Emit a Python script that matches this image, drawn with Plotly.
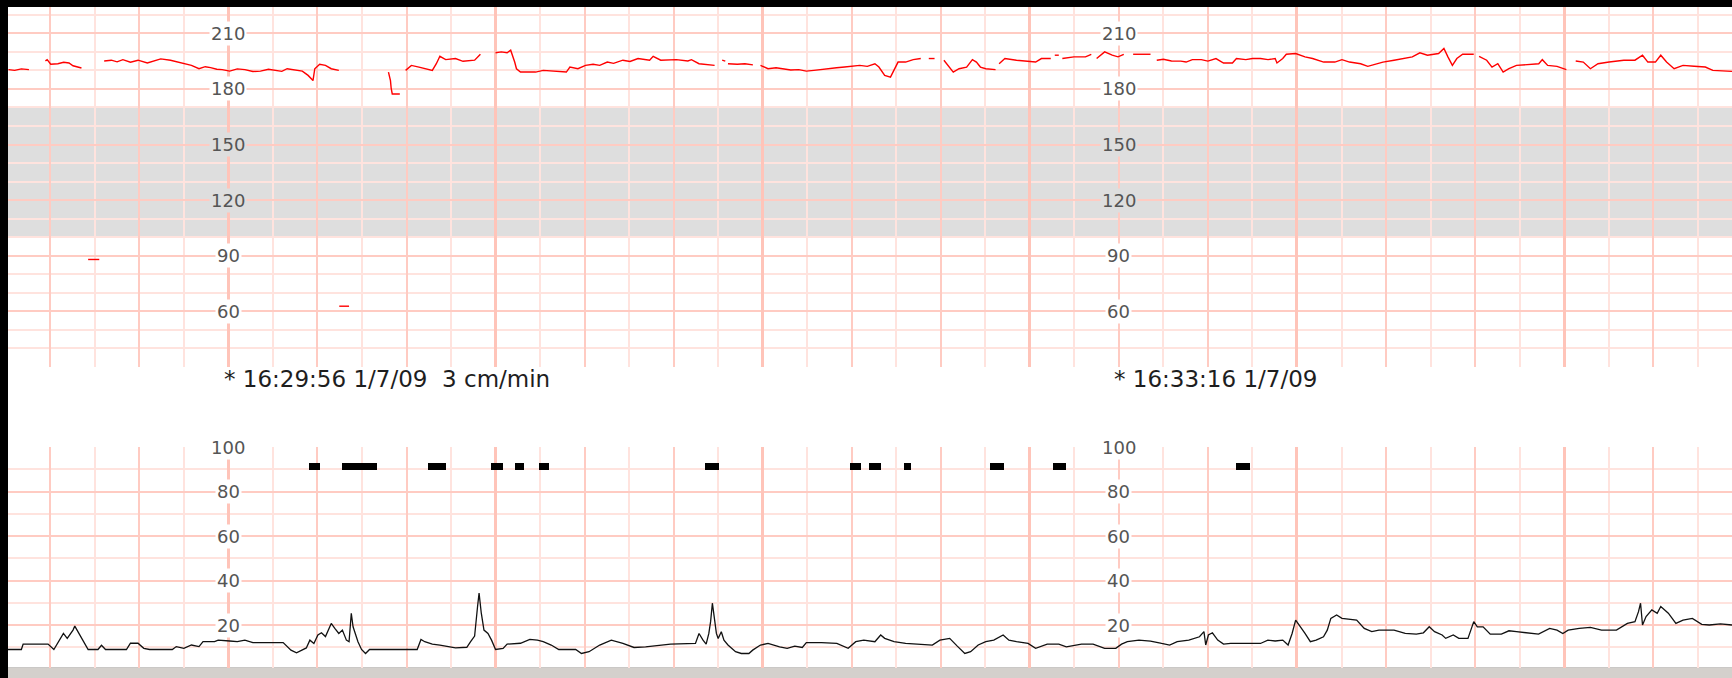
import plotly.graph_objects as go

# ---------------- data (time in seconds relative to 16:29:56) ----------------
# Fetal heart rate (bpm); None marks signal gaps
fhr_t = [
    -49.4, -48.0, -46.5, -44.8, None,
    -41.1, -40.7, -39.9, -38.3, -37.0, -35.8, -34.9, -34.0, -33.0, None,
    -31.5, -29.0, None,
    -27.9, -26.3, -25.0, -23.7, -22.0, -20.3, -18.2, -16.0, -15.2, -13.0, -10.9, -8.3, -6.6, -5.2, -4.0,
    -2.6, -1.4, 0.3, 2.0, 3.7, 5.5, 7.2, 9.0, 10.6, 12.0, 13.2, 14.9, 16.6, 17.9, 19.0, 19.4, 20.5, 21.8,
    23.1, 24.8, None,
    24.9, 27.1, None,
    35.95, 36.4, 36.55, 36.8, 38.5, None,
    39.8, 41.1, 42.8, 44.5, 45.8, 46.7, 47.5, 48.8, 51.0, 52.7, 55.3, 56.6, None,
    60.0, 61.3, 62.6, 63.4, 64.3, 64.7, 65.6, 69.0, 70.7, 75.9, 76.7, 78.5, 80.2, 81.9, 83.4, 85.1, 86.5,
    88.6, 90.2, 92.0, 94.6, 95.4, 97.1, 100.6, 103.2, 104.0, 105.7, 107.5, 109.2, None,
    110.9, 111.6, None,
    112.2, 114.3, 116.0, 117.8, None,
    119.5, 121.2, 123.0, 124.6, 126.3, 128.1, 129.8, 131.5, 133.2, 134.9, 136.6, 138.4, 140.1, 141.8,
    143.5, 145.2, 146.1, 147.4, 148.7, 149.5, 150.4, 152.1, 153.8, 155.5, None,
    157.3, 158.6, None,
    160.7, 162.0, 162.8, 164.1, 165.8, 167.1, 168.0, 168.9, 170.1, 172.3, None,
    173.1, 174.4, 177.0, 179.6, 181.3, 182.6, 184.7, None,
    185.6, 186.5, None,
    187.3, 189.9, 192.5, 193.8, None,
    195.0, 196.8, 198.5, 199.8, 201.1, None,
    203.2, 207.1, None,
    208.5, 210.0, 211.8, 213.9, 215.1, 216.5, 218.5, 220.0, 221.8, 223.5, 225.5, 226.4, 228.5, 230.0,
    231.8, 233.5, 235.1, 235.5, 236.8, 237.6, 239.7, 241.8, 243.5, 246.0, 248.5, 250.1, 251.8, 254.3,
    255.9, 257.6, 259.3, 261.8, 264.3, 265.9, 267.6, 269.3, 271.8, 273.0, 273.9, 274.9, 275.9, 277.2,
    279.7, None,
    280.9, 282.6, 283.8, 285.1, 286.3, 287.6, 289.3, 291.8, 294.3, 295.1, 296.3, 298.4, 300.5, None,
    302.6, 304.3, 305.9, 307.6, 310.1, 313.4, 315.9, 317.6, 318.8, 320.5, 321.7, 323.0, 324.7, 326.7,
    329.2, 331.7, 333.4, 337.7,
]
fhr_bpm = [
    190.4, 190.0, 190.8, 190.4, None,
    195.1, 195.8, 193.3, 193.6, 194.4, 194.0, 192.5, 191.8, 191.3, None,
    88.0, 88.0, None,
    195.1, 195.5, 194.6, 195.8, 194.4, 195.5, 194.0, 195.8, 196.2, 195.5, 194.4, 192.7, 190.9, 192.0, 191.5,
    190.6, 190.4, 189.6, 190.8, 190.4, 189.4, 189.6, 190.6, 190.0, 189.5, 190.9, 190.4, 189.6, 187.3, 184.5,
    190.9, 193.3, 192.7, 190.9, 190.0, None,
    62.8, 62.8, None,
    189.1, 184.5, 180.5, 177.3, 177.3, None,
    190.0, 192.7, 191.8, 190.9, 190.0, 193.6, 197.6, 195.8, 196.4, 194.9, 195.5, 198.7, None,
    199.5, 200.0, 199.5, 200.9, 194.5, 190.9, 189.1, 189.1, 190.0, 189.1, 191.8, 190.9, 192.7, 193.3, 192.7,
    194.5, 193.8, 195.5, 194.8, 196.4, 195.5, 197.6, 195.5, 195.8, 195.1, 195.8, 193.6, 193.2, 192.7, None,
    195.5, 195.0, None,
    193.6, 193.3, 193.6, 193.0, None,
    192.7, 190.9, 191.4, 190.9, 190.2, 190.4, 189.6, 190.0, 190.6, 190.9, 191.4, 191.8, 192.4, 192.7,
    192.2, 193.6, 191.8, 187.3, 186.4, 190.0, 194.5, 194.5, 195.8, 196.4, None,
    196.4, 196.4, None,
    195.5, 191.8, 189.1, 190.9, 191.8, 195.8, 194.5, 191.8, 190.9, 190.4, None,
    193.6, 196.4, 195.5, 195.1, 194.5, 196.4, 196.4, None,
    198.2, 198.2, None,
    196.4, 197.3, 197.3, 198.7, None,
    196.4, 200.0, 198.2, 197.3, 198.7, None,
    198.7, 198.7, None,
    195.5, 196.0, 195.1, 195.0, 194.5, 195.8, 195.8, 195.0, 196.4, 194.0, 194.0, 196.4, 195.8, 196.4,
    196.4, 195.8, 196.4, 194.0, 196.4, 198.7, 199.1, 197.3, 196.4, 194.5, 194.5, 195.8, 194.5, 193.6,
    192.2, 193.3, 194.5, 195.5, 196.4, 197.3, 199.5, 198.2, 199.1, 201.8, 197.3, 192.7, 196.4, 198.7,
    198.7, None,
    197.6, 195.5, 191.8, 193.6, 189.1, 190.9, 192.7, 193.3, 193.6, 195.8, 192.7, 192.2, 190.4, None,
    195.1, 194.5, 190.9, 193.6, 194.5, 195.5, 195.5, 198.2, 194.5, 194.5, 198.2, 194.5, 190.9, 192.7,
    192.2, 191.8, 190.0, 189.5,
]

# Uterine activity (units)
ua_t = [
    -49.5, -46.5, -46.1, -40.5, -39.2, -37.9, -37.05, -36.2, -34.9, -34.5, -33.6, -32.8, -31.5, -29.3,
    -28.5, -27.6, -22.9, -22.0, -20.3, -19.0, -17.7, -12.6, -11.7, -10.0, -8.3, -6.6, -5.7, -3.1, -2.3,
    0.3, 2.0, 3.7, 5.5, 12.3, 14.05, 15.3, 16.6, 17.5, 18.3, 19.2, 20.1, 20.9, 21.8, 23.1, 23.9, 24.8,
    25.6, 26.5, 27.1, 27.6, 28.0, 28.5, 29.1, 29.9, 30.8, 31.7, 42.4, 43.25, 44.1, 45.8, 47.5, 51.0,
    53.55, 54.4, 55.3, 55.96, 56.3, 56.8, 57.4, 58.3, 59.1, 60.0, 61.7, 62.6, 65.6, 67.7, 69.4, 70.7,
    72.5, 74.2, 78.0, 79.3, 81.0, 83.4, 86.0, 88.6, 91.1, 93.7, 99.3, 104.9, 105.7, 106.6, 107.3, 107.9,
    108.3, 108.7, 109.2, 109.6, 110.0, 110.7, 111.3, 112.2, 113.9, 115.2, 116.9, 117.75, 119.5, 121.2,
    123.8, 125.5, 127.2, 128.9, 129.8, 133.2, 136.65, 139.2, 140.9, 142.7, 145.2, 146.5, 147.4, 149.5,
    152.1, 155.5, 158.1, 159.8, 162.0, 163.7, 165.4, 166.7, 168.4, 170.1, 171.9, 174.0, 175.3, 177.0,
    179.6, 181.3, 183.9, 186.5, 188.2, 191.6, 194.2, 196.8, 199.3, 200.6, 201.9, 204.5, 207.1, 209.6,
    211.4, 213.1, 215.7, 218.1, 219.1, 219.5, 220.1, 221.0, 222.2, 223.5, 225.1, 231.8, 233.45, 235.1,
    236.8, 238.0, 238.9, 239.7, 240.5, 241.8, 243.0, 244.3, 245.95, 246.8, 247.6, 248.9, 250.1, 251.8,
    253.4, 255.1, 256.8, 258.4, 261.8, 264.3, 266.8, 268.4, 269.7, 270.9, 272.6, 273.4, 275.1, 276.35,
    278.4, 279.7, 280.5, 281.8, 283.4, 285.9, 287.6, 289.3, 291.8, 294.25, 296.75, 298.4, 299.7, 300.9,
    303.4, 305.9, 308.4, 311.75, 314.2, 315.9, 316.7, 317.16, 317.6, 318.4, 319.7, 320.9, 321.7, 323.4,
    325.1, 326.7, 328.8, 330.9, 332.6, 335.1, 337.7,
]
ua_val = [
    9.0, 9.0, 11.4, 11.4, 9.0, 13.2, 16.2, 14.0, 17.7, 19.5, 16.2, 13.2, 9.0, 9.0,
    10.9, 9.0, 9.0, 11.8, 11.8, 9.5, 9.0, 9.0, 10.3, 9.5, 11.0, 10.3, 12.5, 12.5, 13.2,
    12.8, 12.5, 13.2, 12.1, 12.1, 8.7, 7.5, 8.7, 9.7, 13.2, 11.7, 15.5, 16.5, 14.8, 20.7, 18.5, 16.2,
    17.7, 13.2, 12.5, 25.3, 19.2, 16.2, 12.5, 9.0, 7.2, 9.0, 9.0, 13.5, 12.5, 11.4, 11.0, 9.7,
    10.0, 12.5, 15.0, 28.3, 34.3, 25.3, 17.7, 16.2, 13.2, 9.0, 9.5, 11.4, 11.8, 13.5, 13.2, 12.5,
    11.0, 9.0, 9.0, 7.2, 8.0, 11.0, 13.2, 11.7, 9.9, 10.2, 11.4, 11.7, 16.2, 13.2, 11.4, 16.2,
    21.5, 29.8, 20.6, 16.2, 13.9, 17.0, 13.2, 11.0, 8.0, 7.2, 7.2, 8.7, 11.0, 11.7,
    10.2, 9.5, 10.5, 9.9, 12.1, 12.1, 11.7, 9.5, 12.5, 13.2, 12.5, 15.5, 14.0, 12.5,
    11.7, 11.4, 11.0, 13.2, 14.0, 10.5, 7.2, 8.0, 11.0, 12.5, 13.2, 15.5, 13.2, 12.5,
    11.7, 9.5, 11.4, 11.4, 10.2, 11.4, 11.4, 9.5, 9.5, 11.4, 12.5, 13.2, 12.8, 11.7,
    11.0, 12.5, 13.2, 14.7, 17.0, 11.0, 15.5, 16.5, 13.2, 11.4, 11.7, 11.7, 13.2, 12.8,
    13.2, 11.0, 16.2, 22.2, 20.0, 16.2, 12.5, 13.2, 14.7, 17.7, 23.0, 24.5, 23.0, 22.5,
    22.2, 18.5, 17.0, 17.7, 17.7, 16.2, 15.9, 16.5, 19.2, 17.0, 15.5, 14.0, 15.5, 14.0,
    14.0, 21.5, 19.2, 19.2, 15.9, 15.9, 17.4, 17.0, 16.5, 15.9, 18.5, 17.7, 16.2, 17.7,
    18.5, 18.9, 17.7, 17.7, 20.7, 21.5, 26.0, 29.8, 20.0, 23.8, 26.8, 25.3, 28.3, 25.3,
    20.7, 22.2, 23.0, 20.3, 20.0, 20.5, 20.0,
]

# Event markers (start, end in seconds)
mark_start = [18.2, 25.5, 44.8, 58.9, 64.3, 69.7, 107.0, 139.6, 143.9, 151.8, 171.0, 185.2, 226.4]
mark_end = [20.5, 33.4, 48.8, 61.7, 66.3, 71.9, 110.2, 142.1, 146.5, 153.4, 174.3, 188.2, 229.5]
mark_level = [89.5, 92.7]

# Axis labels and time stamps
fhr_labels = [210, 180, 150, 120, 90, 60]
ua_labels = [100, 80, 60, 40, 20]
label_times = [0, 200]
stamp_times = [0, 200]
stamp_texts = ["* 16:29:56 1/7/09\u00a0\u00a03 cm/min", "* 16:33:16 1/7/09"]
normal_band = [100, 170]

# ---------------- layout geometry ----------------
W, H = 1732, 678
XR = [-49.5, 337.7]


def py(px):
    return 1 - px / H


THICK = "#FFC4B9"
MED = "#FFCBC2"
LIGHT = "#FFE3DE"
BAND = "#DEDEDE"

med_vals = [v for v in range(-40, 340, 20) if v % 60 != 0]

fig = go.Figure()
fig.add_trace(go.Scatter(x=fhr_t, y=fhr_bpm, mode="lines", connectgaps=False,
                         line=dict(color="#FF0000", width=1.4), xaxis="x3", yaxis="y",
                         hoverinfo="skip"))
fig.add_trace(go.Scatter(x=ua_t, y=ua_val, mode="lines",
                         line=dict(color="#111111", width=1.3), xaxis="x4", yaxis="y2",
                         hoverinfo="skip"))
fig.add_trace(go.Bar(x=[(a + b) / 2 for a, b in zip(mark_start, mark_end)],
                     y=[mark_level[1] - mark_level[0]] * len(mark_start),
                     base=mark_level[0],
                     width=[b - a for a, b in zip(mark_start, mark_end)],
                     marker=dict(color="black", line=dict(width=0)),
                     xaxis="x4", yaxis="y2", hoverinfo="skip"))

common_x = dict(range=XR, domain=[8 / W, 1], showticklabels=False, ticks="", zeroline=False,
                showline=False, tickmode="array", tickvals=med_vals, showgrid=True,
                gridcolor=MED, gridwidth=2,
                minor=dict(dtick=10, tick0=0, showgrid=True, gridcolor=LIGHT, gridwidth=1.5, ticks=""))
thick_x = dict(range=XR, showticklabels=False, ticks="", zeroline=False, showline=False,
               tickmode="linear", tick0=0, dtick=60, showgrid=True, gridcolor=THICK, gridwidth=3)

fig.update_layout(
    width=W, height=H, margin=dict(l=0, r=0, t=0, b=0),
    paper_bgcolor="black", plot_bgcolor="white", showlegend=False,
    font=dict(family="DejaVu Sans"),
    xaxis=dict(anchor="y", **common_x),
    xaxis2=dict(anchor="y2", **common_x),
    xaxis3=dict(overlaying="x", anchor="y", **thick_x),
    xaxis4=dict(overlaying="x2", anchor="y2", **thick_x),
    yaxis=dict(domain=[py(367), py(7)], range=[30, 224.2], showticklabels=False, ticks="",
               zeroline=False, showline=False, tickmode="array",
               tickvals=list(range(30, 221, 30)), showgrid=True, gridcolor=MED, gridwidth=2,
               minor=dict(dtick=10, tick0=0, showgrid=True, gridcolor=LIGHT, gridwidth=1.5, ticks="")),
    yaxis2=dict(domain=[py(667.5), py(447)], range=[0.9, 100], showticklabels=False, ticks="",
                zeroline=False, showline=False, tickmode="array",
                tickvals=list(range(0, 101, 20)), showgrid=True, gridcolor=MED, gridwidth=2,
                minor=dict(dtick=10, tick0=0, showgrid=True, gridcolor=LIGHT, gridwidth=1.5, ticks="")),
    bargap=0,
)

shapes = [
    dict(type="rect", xref="paper", yref="paper", x0=8 / W, x1=1, y0=py(667.5), y1=py(7),
         fillcolor="white", line=dict(width=0), layer="below"),
    dict(type="rect", xref="paper", yref="paper", x0=8 / W, x1=1, y0=0, y1=py(667.5),
         fillcolor="#D4D0CC", line=dict(width=0), layer="below"),
    dict(type="rect", xref="x domain", yref="y", x0=0, x1=1, y0=normal_band[0], y1=normal_band[1],
         fillcolor=BAND, line=dict(width=0), layer="below"),
]
fig.update_layout(shapes=shapes)

ann = []
for tx in label_times:
    for v in fhr_labels:
        inside = normal_band[0] < v < normal_band[1]
        ann.append(dict(x=tx, y=v, xref="x", yref="y", text=str(v), showarrow=False,
                        xanchor="center", yanchor="middle",
                        font=dict(family="DejaVu Sans", size=18, color="#555555"),
                        bgcolor=BAND if inside else "white", borderpad=1))
    for v in ua_labels:
        ann.append(dict(x=tx, y=v, xref="x2", yref="y2", text=str(v), showarrow=False,
                        xanchor="center", yanchor="middle",
                        font=dict(family="DejaVu Sans", size=18, color="#555555"),
                        bgcolor="white", borderpad=1))
for tx, txt in zip(stamp_times, stamp_texts):
    ann.append(dict(x=tx - 1.5, y=py(379), xref="x", yref="paper", text=txt, showarrow=False,
                    xanchor="left", yanchor="middle",
                    font=dict(family="DejaVu Sans", size=23, color="#1E1E1E")))
fig.update_layout(annotations=ann)

fig.write_html("out.html",
               config={"displayModeBar": False},
               post_script="document.body.style.margin='0px';document.body.style.overflow='hidden';")
